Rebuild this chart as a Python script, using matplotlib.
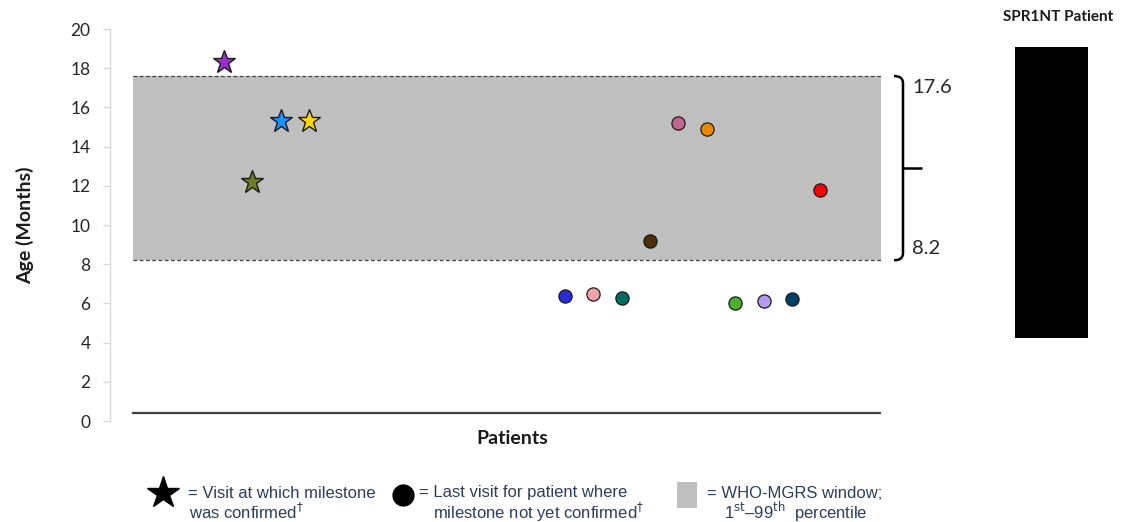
import matplotlib
matplotlib.use("Agg")
import matplotlib.pyplot as plt
from matplotlib.path import Path
from matplotlib.patches import PathPatch, Rectangle
import matplotlib.transforms as mtransforms

# Milestone data: patient slot index and age (months)
star_patients = [0, 1, 2, 3]
star_ages = [18.3, 12.2, 15.3, 15.3]
star_colors = ["#9b30d0", "#6e7d22", "#1e90ff", "#ffd700"]

circle_patients = [12, 13, 14, 15, 16, 17, 18, 19, 20, 21]
circle_ages = [6.4, 6.5, 6.3, 9.2, 15.2, 14.9, 6.0, 6.1, 6.2, 11.8]
circle_colors = ["#2b2bd8", "#f2a2aa", "#006b63", "#4d2d08", "#c2668f",
                 "#e88a00", "#4caf32", "#b49af0", "#003f66", "#ff0000"]

window_low = 8.2
window_high = 17.6
y_ticks = [0, 2, 4, 6, 8, 10, 12, 14, 16, 18, 20]

W, H = 1137, 522
fig = plt.figure(figsize=(W / 100, H / 100), dpi=100)
plt.rcParams["mathtext.fontset"] = "custom"

TICK_FONT = ["Lato", "DejaVu Sans"]
LEG_FONT = ["Liberation Sans Narrow", "Liberation Sans", "DejaVu Sans"]
LEG_COLOR = "#2a3f5f"


def fx(px):
    return px / W


def fy(py):
    return 1 - py / H


ax = fig.add_axes([fx(110), fy(421), fx(881) - fx(110), fy(29) - fy(421)])
ax.set_xlim(-4.0, 23.13)
ax.set_ylim(0, 20)

band_x0 = (133 - 110) / (881 - 110)
ax.axhspan(window_low, window_high, xmin=band_x0, xmax=1.0,
           color="#bfbfbf", lw=0, zorder=1)
for yv in (window_low, window_high):
    ax.axhline(yv, xmin=band_x0, xmax=1.0, color="#404040",
               lw=0.9, ls=(0, (3, 2)), zorder=2)
ax.axhline(0.41, xmin=band_x0, xmax=1.0, color="#404040", lw=1.6, zorder=2)

for x, y, c in zip(star_patients, star_ages, star_colors):
    ax.plot(x, y, marker="*", ms=17, mfc=c, mec="#1a1a1a", mew=1.0,
            ls="none", zorder=4)
for x, y, c in zip(circle_patients, circle_ages, circle_colors):
    ax.plot(x, y, marker="o", ms=9.5, mfc=c, mec="#1a1a1a", mew=0.9,
            ls="none", zorder=4)

for s in ("top", "right", "bottom"):
    ax.spines[s].set_visible(False)
ax.spines["left"].set_color("#d9d9d9")
ax.spines["left"].set_linewidth(1.0)
ax.set_yticks(y_ticks)
ax.set_yticklabels([str(t) for t in y_ticks], family=TICK_FONT,
                   fontsize=12.5, color="#262626")
ax.tick_params(axis="y", length=5, color="#d9d9d9", width=1.0, pad=9)
ax.set_xticks([])
ax.set_facecolor("none")

# Bracket marking the WHO-MGRS window
trans = mtransforms.blended_transform_factory(ax.transAxes, ax.transData)
xs = lambda px: (px - 110) / (881 - 110)
xb, xh, xm = xs(903), xs(894), xs(922)
mid = (window_low + window_high) / 2
r = 0.35
verts = [(xh, window_high), (xb, window_high), (xb, window_high - r),
         (xb, window_low + r), (xb, window_low), (xh, window_low)]
codes = [Path.MOVETO, Path.CURVE3, Path.CURVE3,
         Path.LINETO, Path.CURVE3, Path.CURVE3]
ax.add_patch(PathPatch(Path(verts, codes), transform=trans, fill=False,
                       ec="black", lw=1.8, clip_on=False, zorder=5))
ax.plot([xb, xm], [mid, mid], transform=trans, color="black", lw=1.8,
        clip_on=False, solid_capstyle="butt")
ax.text(xs(912), window_high - 0.6, f"{window_high:g}", transform=trans,
        ha="left", va="center", fontsize=14.5, family=TICK_FONT,
        color="#262626")
ax.text(xs(912), window_low + 0.6, f"{window_low:g}", transform=trans,
        ha="left", va="center", fontsize=14.5, family=TICK_FONT,
        color="#262626")

fig.text(fx(512), fy(438), "Patients", ha="center", va="center",
         fontsize=14, weight="bold", family=TICK_FONT, color="#1a1a1a")
fig.text(fx(25), fy(225), "Age (Months)", ha="center", va="center",
         rotation=90, fontsize=14, weight="bold", family=TICK_FONT,
         color="#1a1a1a")

# Index patient panel
bar_ax = fig.add_axes([fx(1015), fy(338), fx(1088) - fx(1015), fy(47) - fy(338)])
bar_ax.set_facecolor("black")
bar_ax.set_xticks([])
bar_ax.set_yticks([])
for s in bar_ax.spines.values():
    s.set_visible(False)
fig.text(fx(1058), fy(17), "SPR1NT Patient", ha="center", va="center",
         fontsize=11, weight="bold", family=TICK_FONT, color="#1a1a1a")

# Key beneath the chart
key = fig.add_axes([0, 0, 1, 1], zorder=-1)
key.set_xlim(0, W)
key.set_ylim(H, 0)
key.axis("off")
key.plot(163, 493, marker="*", ms=24, color="black", ls="none")
key.plot(403, 495, marker="o", ms=15, color="black", ls="none")
key.add_patch(Rectangle((677, 482), 20, 26, color="#bfbfbf", lw=0))

leg_kw = dict(fontsize=12, family=LEG_FONT, color=LEG_COLOR,
              ha="left", va="center")
key.text(188, 493, "= Visit at which milestone", **leg_kw)
key.text(189, 512, r"was confirmed$^{\dagger}$", **leg_kw)
key.text(419, 493, "= Last visit for patient where", **leg_kw)
key.text(433, 512, r"milestone not yet confirmed$^{\dagger}$", **leg_kw)
key.text(707, 493, "= WHO-MGRS window;", **leg_kw)
key.text(724, 512, r"1$^{\mathrm{st}}$–99$^{\mathrm{th}}$  percentile", **leg_kw)

fig.savefig("out.png", dpi=100, facecolor="white")
